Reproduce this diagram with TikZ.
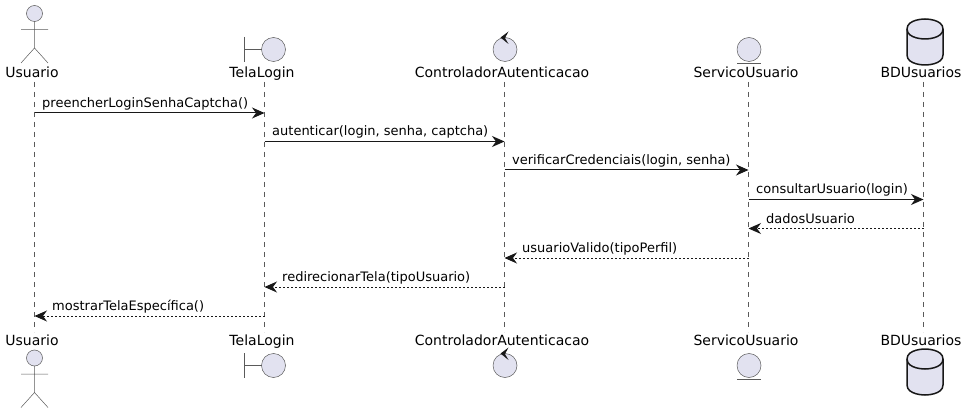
\documentclass[tikz,border=0pt]{standalone}
\usepackage{fontspec}
\setmainfont{DejaVu Sans}
\usetikzlibrary{arrows.meta}
\definecolor{partfill}{HTML}{E2E2F0}
\definecolor{partline}{HTML}{181818}
\definecolor{thinline}{HTML}{5A5A5A}
\tikzset{
    lifeline/.style={thinline,line width=0.5pt,dash pattern=on 5pt off 5pt},
    shapeline/.style={thinline,line width=0.5pt},
    partshape/.style={shapeline,fill=partfill},
    dbshape/.style={partline,line width=1.5pt,fill=partfill},
    partname/.style={font=\fontsize{14}{14}\selectfont,text=black,inner sep=0pt,anchor=base},
    msgname/.style={font=\fontsize{13}{13}\selectfont,text=black,inner sep=0pt,anchor=base west},
    call/.style={partline,line width=1pt,-{Stealth[length=12.5pt,width=11pt,inset=4pt]}},
    reply/.style={call,dash pattern=on 2pt off 2pt},
}
\begin{document}
\begin{tikzpicture}[x=1pt,y=-1pt]
    \useasboundingbox (0,0) rectangle (966,414);
    % participant names, top and bottom
    \foreach \id/\xpos/\name in {usuario/34.5/Usuario,tela/264.5/TelaLogin,ctrl/504.5/ControladorAutenticacao,serv/748.5/ServicoUsuario,bd/923.5/BDUsuarios} {
        \node[partname] (\id T) at (\xpos-2.5,77.5) {\name};
        \node[partname] (\id B) at (\xpos-2.5,345.5) {\name};
        \coordinate (\id A) at (\xpos,82);
        \coordinate (\id Z) at (\xpos,332);
        \draw[lifeline] (\id A) -- (\id Z);
    }
    % messages
    \foreach \a/\b/\ypos/\lab [count=\i] in {
        usuario/tela/113/preencherLoginSenhaCaptcha(),
        tela/ctrl/141.5/{autenticar(login, senha, captcha)},
        ctrl/serv/170/{verificarCredenciais(login, senha)},
        serv/bd/199.5/consultarUsuario(login)} {
        \coordinate (from\i) at (\a A |- 0,\ypos);
        \coordinate (to\i) at (\b A |- 0,\ypos);
        \draw[call] (from\i) -- (to\i);
        \node[msgname] (lab\i) at ([xshift=7.5pt,yshift=5.5pt]from\i) {\lab};
    }
    \foreach \a/\b/\ypos/\lab [count=\i] in {
        bd/serv/228.5/dadosUsuario,
        serv/ctrl/258/usuarioValido(tipoPerfil),
        ctrl/tela/287/redirecionarTela(tipoUsuario),
        tela/usuario/316/mostrarTelaEspecífica()} {
        \coordinate (rfrom\i) at (\a A |- 0,\ypos);
        \coordinate (rto\i) at (\b A |- 0,\ypos);
        \draw[reply] (rfrom\i) -- (rto\i);
        \node[msgname] (rlab\i) at ([xshift=17.5pt,yshift=5.5pt]rto\i) {\lab};
    }
    % actor
    \foreach \yoff in {0,344.5} {
        \begin{scope}[yshift=-\yoff pt]
            \draw[partshape] (34.5,13.5) circle (8);
            \draw[shapeline] (34.5,21.5) -- (34.5,48) (21,29.5) -- (48,29.5)
                (21,63) -- (34.5,48) -- (48,63);
        \end{scope}
    }
    % boundary
    \foreach \yoff in {0,316} {
        \begin{scope}[yshift=-\yoff pt]
            \draw[partshape] (273.5,49.5) circle (12);
            \draw[shapeline] (244.5,37) -- (244.5,62) (244.5,49.5) -- (261.5,49.5);
        \end{scope}
    }
    % control
    \foreach \yoff in {0,316} {
        \begin{scope}[yshift=-\yoff pt]
            \draw[partshape] (505,49.5) circle (12);
            \fill[partline] (500.5,37.5) -- (508.5,31.5) -- (505,38) -- (508.5,44) -- cycle;
        \end{scope}
    }
    % entity
    \foreach \yoff in {0,316} {
        \begin{scope}[yshift=-\yoff pt]
            \draw[partshape] (749,49.5) circle (12);
            \draw[shapeline] (737,63.5) -- (761,63.5);
        \end{scope}
    }
    % database
    \foreach \yoff in {0,330} {
        \begin{scope}[yshift=-\yoff pt]
            \draw[dbshape] (907,29) .. controls (907,19) and (925,19) .. (925,19)
                .. controls (925,19) and (943,19) .. (943,29)
                -- (943,55) .. controls (943,65) and (925,65) .. (925,65)
                .. controls (925,65) and (907,65) .. (907,55) -- cycle;
            \draw[dbshape,fill=none] (907,29) .. controls (907,39) and (925,39) .. (925,39)
                .. controls (925,39) and (943,39) .. (943,29);
        \end{scope}
    }
\end{tikzpicture}
\end{document}
